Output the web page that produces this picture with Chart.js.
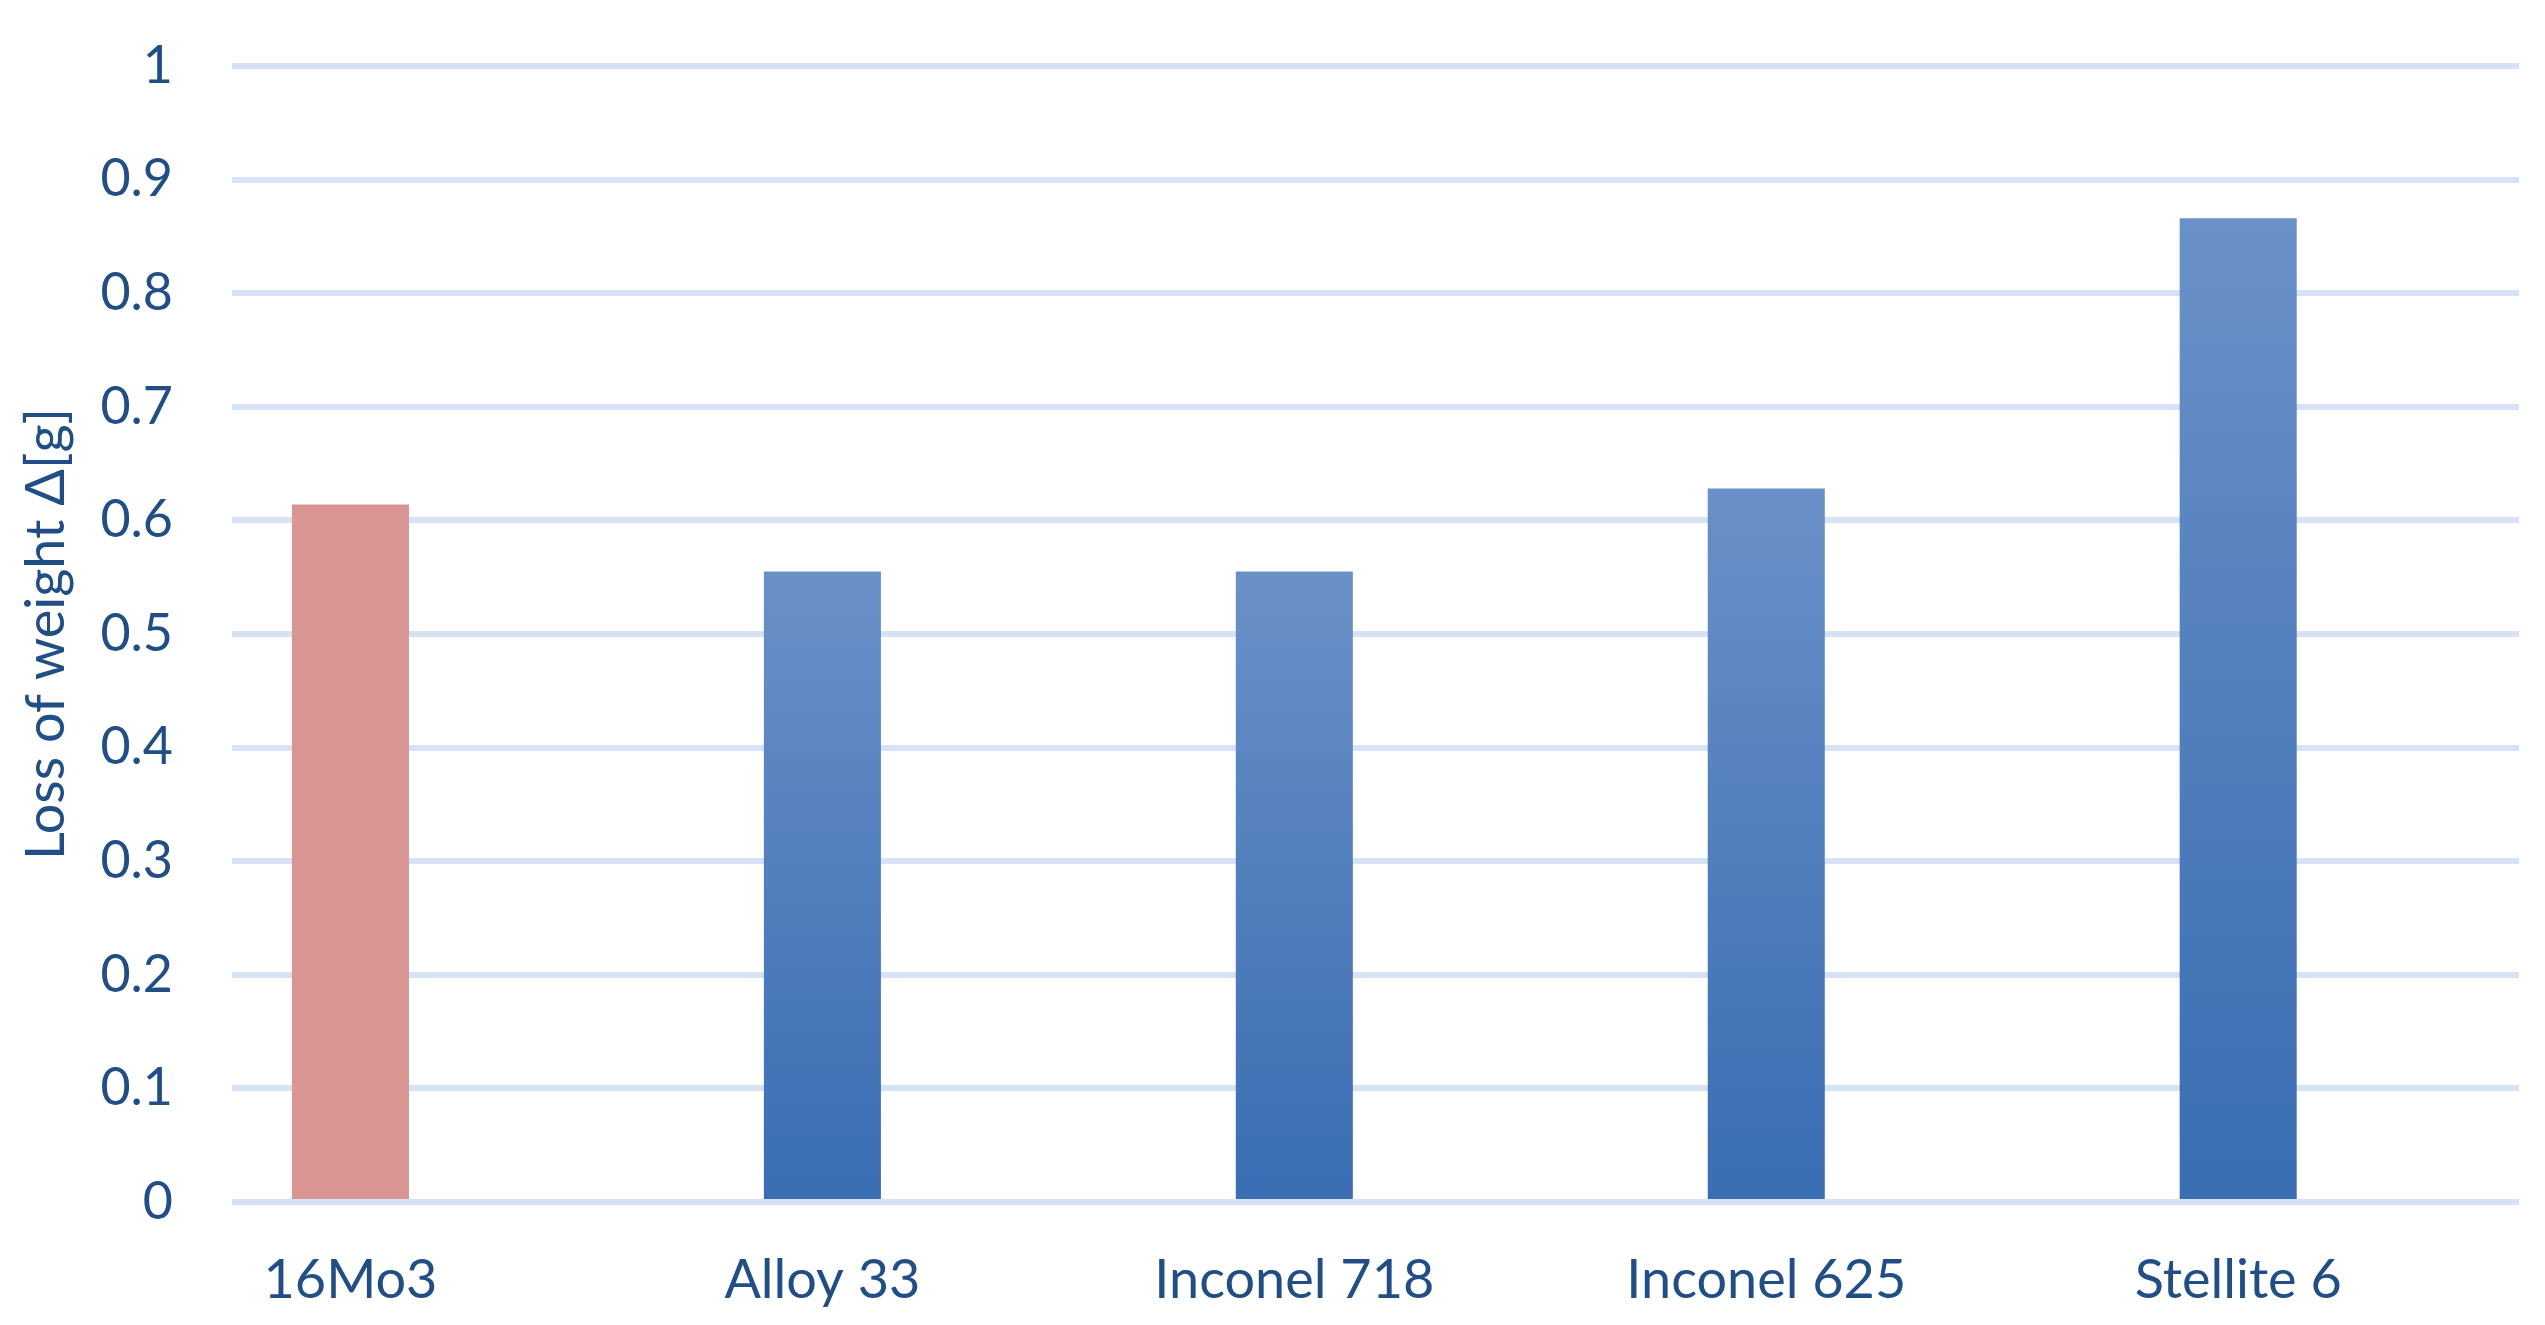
<!DOCTYPE html>
<html>
<head>
<meta charset="utf-8">
<script src="https://cdn.jsdelivr.net/npm/chart.js@4.4.1/dist/chart.umd.min.js"></script>
<style>
  html, body { margin: 0; padding: 0; background: #ffffff; }
  #wrap { width: 2545px; height: 1325px; }
</style>
</head>
<body>
<div id="wrap"><canvas id="c" width="2545" height="1325"></canvas></div>
<script>
// ---- data ----
const categories = ['16Mo3', 'Alloy 33', 'Inconel 718', 'Inconel 625', 'Stellite 6'];
const lossOfWeight = [0.614, 0.555, 0.555, 0.628, 0.866];
const yTickLabels = ['0', '0.1', '0.2', '0.3', '0.4', '0.5', '0.6', '0.7', '0.8', '0.9', '1'];
const yAxisTitle = 'Loss of weight \u0394[g]';

// ---- style ----
const TEXT = '#214F85';
const GRID = '#D6E3F4';
const PINK = '#D99594';
const BLUE_TOP = '#6A90C8';
const BLUE_BOTTOM = '#3A6DB2';
const FONT = 'Lato';

function barFill(ctx) {
  const i = ctx.dataIndex;
  if (i === 0) return PINK;
  const chart = ctx.chart;
  const ys = chart.scales && chart.scales.y;
  if (!ys || i === undefined) return BLUE_BOTTOM;
  const top = ys.getPixelForValue(lossOfWeight[i]);
  const base = ys.getPixelForValue(0);
  if (!isFinite(top) || !isFinite(base) || top === base) return BLUE_BOTTOM;
  const g = chart.ctx.createLinearGradient(0, top, 0, base);
  g.addColorStop(0, BLUE_TOP);
  g.addColorStop(1, BLUE_BOTTOM);
  return g;
}

new Chart(document.getElementById('c'), {
  type: 'bar',
  data: {
    datasets: [{
      data: lossOfWeight.map((v, i) => ({ x: i, y: v })),
      backgroundColor: barFill,
      borderWidth: 0,
      barPercentage: 0.248,
      categoryPercentage: 1
    }]
  },
  options: {
    responsive: false,
    devicePixelRatio: 1,
    animation: false,
    layout: { padding: { top: 66, right: 26, bottom: 0, left: 0 } },
    plugins: { legend: { display: false }, tooltip: { enabled: false } },
    scales: {
      x: {
        type: 'linear',
        offset: false,
        min: -0.251,
        max: 4.595,
        grid: { display: false, drawTicks: false, offset: false },
        border: { display: false },
        afterBuildTicks: (scale) => { scale.ticks = categories.map((_, i) => ({ value: i })); },
        afterFit: (scale) => { scale.height = 123; scale.paddingLeft = 0; scale.paddingRight = 0; },
        ticks: {
          autoSkip: false,
          maxRotation: 0,
          padding: 46,
          color: TEXT,
          font: { family: FONT, size: 54 },
          callback: (v) => categories[v]
        }
      },
      y: {
        min: 0,
        max: 1,
        afterFit: (scale) => { scale.width = 232; scale.paddingTop = 0; scale.paddingBottom = 0; },
        grid: { color: GRID, lineWidth: 6, drawTicks: false },
        border: { display: false },
        ticks: {
          stepSize: 0.1,
          padding: 59,
          color: TEXT,
          font: { family: FONT, size: 52 },
          callback: (v, i) => yTickLabels[i]
        },
        title: {
          display: true,
          text: yAxisTitle,
          color: TEXT,
          font: { family: FONT, size: 54 },
          padding: { top: 14, bottom: 0 }
        }
      }
    }
  }
});
</script>
</body>
</html>
